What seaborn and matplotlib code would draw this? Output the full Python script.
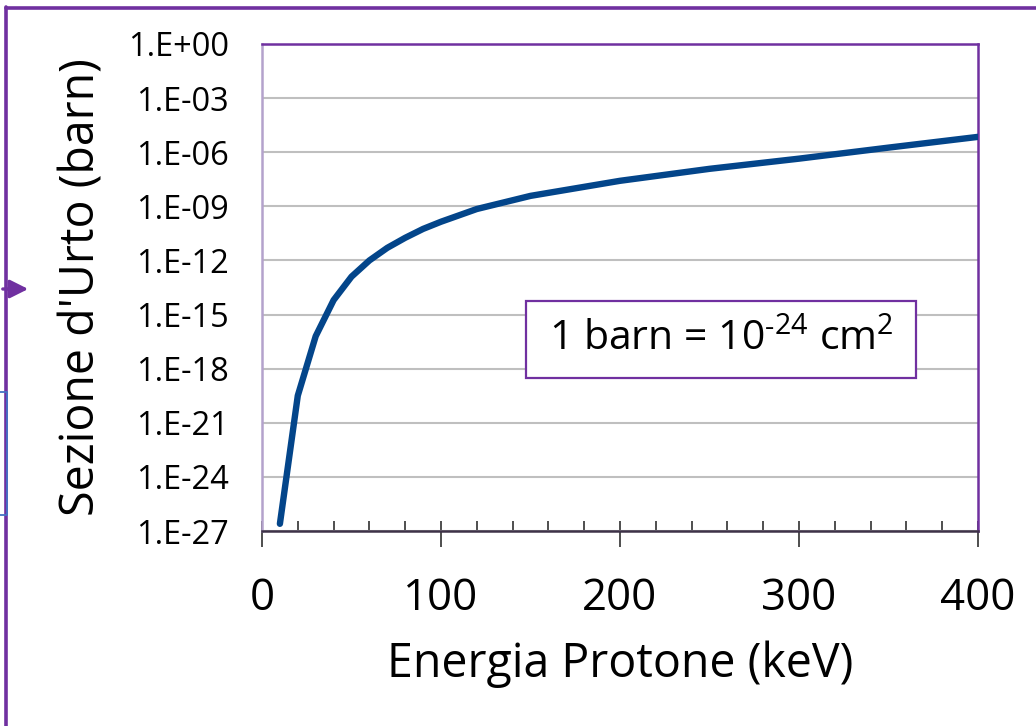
import numpy as np
import pandas as pd
import matplotlib
matplotlib.use("Agg")
import matplotlib.pyplot as plt
from matplotlib.ticker import FixedLocator, FuncFormatter, MultipleLocator
from matplotlib.patches import Rectangle
from matplotlib.lines import Line2D
import seaborn as sns

# ---- data ----
energy_kev = [10, 20, 30, 40, 50, 60, 70, 80, 90, 100, 120, 150, 200, 250, 300, 350, 400]
cross_section_barn = [2.5e-27, 3.2e-20, 6.3e-17, 6.3e-15, 1.26e-13, 1.0e-12, 5.0e-12,
                      1.8e-11, 5.6e-11, 1.4e-10, 7.1e-10, 3.8e-9, 2.6e-8, 1.2e-7,
                      4.4e-7, 1.8e-6, 7.1e-6]
y_tick_exponents = [0, -3, -6, -9, -12, -15, -18, -21, -24, -27]
x_tick_values = [0, 100, 200, 300, 400]
x_label = "Energia Protone (keV)"
y_label = "Sezione d'Urto (barn)"
note_main = "1 barn = 10"
note_exp = "-24"
note_unit = " cm"
note_unit_exp = "2"

df = pd.DataFrame({"E": energy_kev, "sigma": cross_section_barn})

sns.set_style("white")
plt.rcParams["font.family"] = ["Open Sans", "DejaVu Sans"]
plt.rcParams["axes.unicode_minus"] = False
plt.rcParams["text.color"] = "black"
plt.rcParams["axes.labelcolor"] = "black"
plt.rcParams["xtick.color"] = "black"
plt.rcParams["ytick.color"] = "black"

W, H = 1036, 726
fig = plt.figure(figsize=(W / 100, H / 100), dpi=100)
ax = fig.add_axes([262 / W, 1 - 531 / H, (978 - 262) / W, (531 - 44) / H])

sns.lineplot(data=df, x="E", y="sigma", ax=ax, color="#03458A", linewidth=4.6,
             solid_capstyle="round", solid_joinstyle="round", zorder=3)

ax.set_yscale("log")
ax.set_xlim(0, 400)
ax.set_ylim(1e-27, 1e0)

ax.yaxis.set_major_locator(FixedLocator([10.0 ** e for e in y_tick_exponents]))
ax.yaxis.set_minor_locator(FixedLocator([]))
ax.yaxis.set_major_formatter(FuncFormatter(lambda v, p: "1.E{:+03d}".format(int(round(np.log10(v))))))
ax.tick_params(axis="y", which="both", length=0, pad=24, labelsize=23.5, labelcolor="black")

ax.xaxis.set_major_locator(FixedLocator(x_tick_values))
ax.xaxis.set_minor_locator(MultipleLocator(20))
ax.xaxis.remove_overlapping_locs = False
ax.tick_params(axis="x", which="major", bottom=True, direction="out", length=11.5, width=1.2,
               color="#303030", pad=21, labelsize=31.5, labelcolor="black")
ax.tick_params(axis="x", which="minor", bottom=True, direction="in", length=7, width=1.2, color="#303030")

ax.grid(axis="y", which="major", color="#BFBFBF", linewidth=1.5)
ax.grid(axis="x", visible=False)
ax.set_axisbelow(True)

for side, col in [("top", "#7030A0"), ("right", "#7030A0"), ("left", "#B4A2CC"), ("bottom", "#3E3248")]:
    ax.spines[side].set_visible(True)
    ax.spines[side].set_color(col)
    ax.spines[side].set_linewidth(1.8)

ax.set_xlabel(x_label, fontsize=33.5, labelpad=14, color="black")
ax.set_ylabel(y_label, fontsize=33.5, labelpad=16, color="black")

# note box
ax.add_patch(Rectangle((0.3687, 0.3142), 0.5447, 0.158, transform=ax.transAxes,
                       facecolor="white", edgecolor="#7030A0", linewidth=1.6, zorder=4))
note_text = note_main + r"$^{\mathregular{" + note_exp.replace("-", "\u2010") + r"}}$" + note_unit + \
    r"$^{\mathregular{" + note_unit_exp + r"}}$"
ax.text(0.3687 + 0.5447 / 2, 0.3142 + 0.079, note_text, transform=ax.transAxes,
        ha="center", va="center", fontsize=29.5, color="black", zorder=5)

# slide decorations around the chart
def fx(px):
    return px / W

def fy(py):
    return 1 - py / H

fig.add_artist(Line2D([fx(6), fx(1036)], [fy(8), fy(8)], color="#7030A0", linewidth=2.6, transform=fig.transFigure))
fig.add_artist(Line2D([fx(6), fx(6)], [fy(7), fy(726)], color="#7030A0", linewidth=2.6, transform=fig.transFigure))
fig.add_artist(Line2D([fx(0), fx(7), fx(7), fx(0)], [fy(392), fy(392), fy(515), fy(515)],
                      color="#4472C4", linewidth=1.3, transform=fig.transFigure))
ax.annotate("", xy=(fx(31), fy(289)), xytext=(fx(0), fy(289)), xycoords="figure fraction",
            textcoords="figure fraction",
            arrowprops=dict(arrowstyle="-|>,head_length=1.1,head_width=0.55", color="#7030A0", lw=2.4))

fig.savefig("out.png", dpi=100, facecolor="white")
